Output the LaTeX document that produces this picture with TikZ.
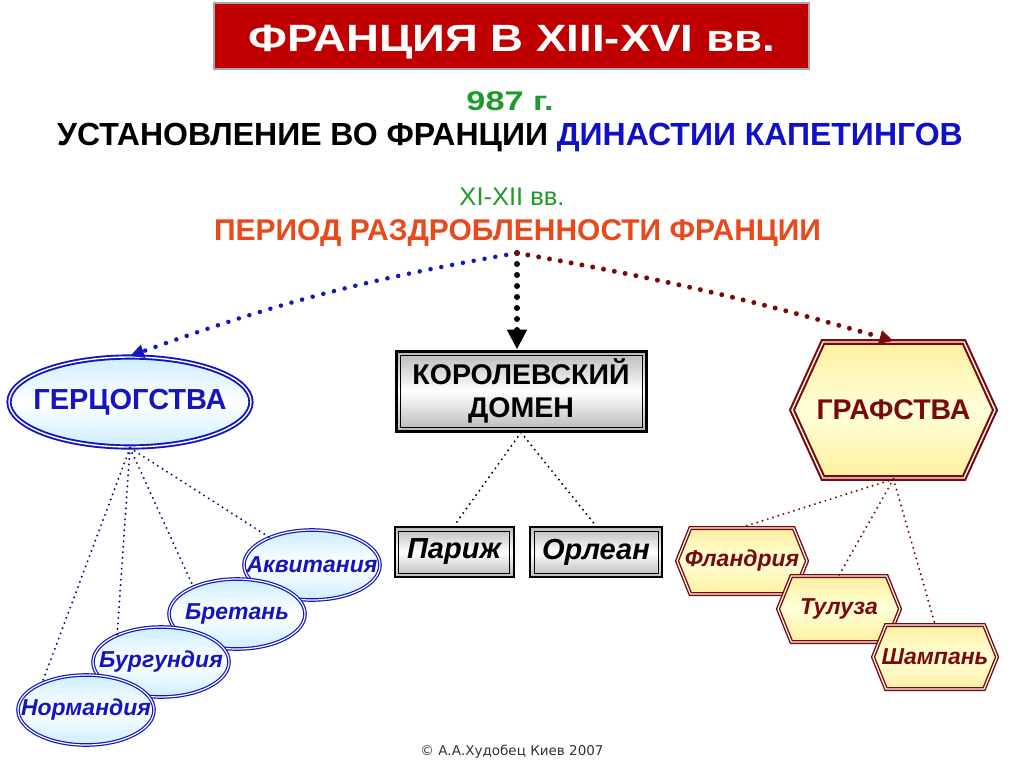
\documentclass[tikz,border=0pt]{standalone}
\usepackage{fontspec}
\setmainfont{Liberation Sans}
\newfontfamily\footfont{DejaVu Sans}
\newfontfamily\widesans[FakeStretch=1.2]{Liberation Sans}
\newfontfamily\midsans[FakeStretch=1.27]{Liberation Sans}
\usetikzlibrary{shapes.geometric,shapes.symbols,arrows.meta}
\definecolor{titlered}{HTML}{C00000}
\definecolor{grn}{HTML}{1E9A28}
\definecolor{dynblue}{HTML}{1010C8}
\definecolor{perorange}{HTML}{E84A1E}
\definecolor{dblue}{HTML}{1414C0}
\definecolor{dred}{HTML}{7A0A0A}
\definecolor{lblue}{HTML}{CDEEFF}
\definecolor{lyellow}{HTML}{FFF0A0}
\definecolor{lgray}{HTML}{B8B8B8}
\tikzset{
  fs/.style={font=\fontsize{#1}{#1}\selectfont},
  bfs/.style={font=\bfseries\fontsize{#1}{#1}\selectfont},
  duchy/.style={ellipse, draw=dblue, double=white, double distance=1.2pt, line width=1.2pt,
    top color=lblue, bottom color=lblue, middle color=white, inner sep=0pt,
    font=\bfseries\itshape\fontsize{23}{23}\selectfont, text=dblue,
    minimum width=136pt, minimum height=70pt},
  county/.style={signal, signal to=west and east, signal pointer angle=136,
    draw=dred, double=white, double distance=1.2pt, line width=1.4pt,
    top color=lyellow, bottom color=lyellow, middle color=white!85!yellow, inner sep=0pt,
    font=\bfseries\itshape\fontsize{23}{23}\selectfont, text=dred,
    minimum height=66pt},
  framed/.style={rectangle, draw=black, line width=#1,
    top color=lgray, bottom color=lgray, middle color=white, inner sep=0pt,
    path picture={\draw[black, line width=0.8pt]
      ([shift={(4pt,-4pt)}]path picture bounding box.north west) rectangle
      ([shift={(-4pt,4pt)}]path picture bounding box.south east);}},
  city/.style={framed=2pt, font=\bfseries\itshape\fontsize{29}{29}\selectfont, minimum height=50pt},
  bigdots/.style={line width=#1, line cap=round, dash pattern=on 0pt off 11pt},
  smalldots/.style={line width=2.2pt, line cap=round, dash pattern=on 0pt off 5.5pt},
  plain/.style={inner sep=0pt, anchor=base},
}
\begin{document}
\begin{tikzpicture}[x=1pt,y=-1pt]
\useasboundingbox (0,0) rectangle (1024,768);
\fill[white] (0,0) rectangle (1024,768);
% title
\node[fill=titlered, draw=gray!70, line width=2.5pt, minimum width=595pt, minimum height=66pt,
  inner sep=0pt] (titlebox) at (511.5,36) {};
\node[plain, text=white, font=\widesans\bfseries\fontsize{38}{38}\selectfont] (title) at (511.5,52)
  {ФРАНЦИЯ В XIII-XVI вв.};
\node[plain, text=grn, font=\midsans\bfseries\fontsize{27}{27}\selectfont] (year) at (510,110) {987 г.};
\node[plain, bfs=32] (dyn) at (510,145)
  {УСТАНОВЛЕНИЕ ВО ФРАНЦИИ \textcolor{dynblue}{ДИНАСТИИ КАПЕТИНГОВ}};
\node[plain, text=grn, fs=25.5] (cent) at (512,205) {XI-XII вв.};
\node[plain, text=perorange, bfs=30] (per) at (517.5,240) {ПЕРИОД РАЗДРОБЛЕННОСТИ ФРАНЦИИ};
\coordinate (src) at (517,253);
% main nodes
\node[ellipse, draw=dblue, double=white, double distance=1.4pt, line width=1.9pt,
  top color=lblue, bottom color=lblue, middle color=white, inner sep=0pt,
  minimum width=242pt, minimum height=90pt, text=dblue, bfs=29]
  (gerc) at (130,402) {\makebox[0pt]{ГЕРЦОГСТВА}};
\node[framed=3pt, minimum width=250pt, minimum height=80pt, align=center,
  font=\bfseries\fontsize{28.5}{33}\selectfont] (dom) at (521,391) {КОРОЛЕВСКИЙ\\ДОМЕН};
\node[signal, signal to=west and east, signal pointer angle=131,
  draw=dred, double=white, double distance=1.4pt, line width=2.1pt,
  top color=lyellow, bottom color=lyellow, middle color=white!85!yellow, inner sep=0pt,
  minimum width=203pt, minimum height=136pt, text=dred, bfs=28.5]
  (graf) at (893.5,410) {\makebox[0pt]{ГРАФСТВА}};
% arrows from period
\draw[dblue, bigdots=4.5pt, -{Triangle[width=13pt,length=14pt]}] (src) to[bend right=5] (gerc.north);
\draw[black, bigdots=6pt, -{Triangle[width=19pt,length=20pt]}] (src) -- (src |- dom.north);
\draw[dred, bigdots=5pt, -{Triangle[width=13pt,length=14pt]}] (src) to[bend left=3] (graf.north);
% duchies
\node[duchy] (akv) at (312,565) {\makebox[0pt]{Аквитания}};
\node[duchy] (bre) at (237,614) {\makebox[0pt]{Бретань}};
\node[duchy] (bur) at (161,662) {\makebox[0pt]{Бургундия}};
\node[duchy] (nor) at (86,710) {\makebox[0pt]{Нормандия}};
\draw[dblue!70!black, smalldots] (gerc.south) -- (akv.147);
\draw[dblue!70!black, smalldots] (gerc.south) -- (bre.148);
\draw[dblue!70!black, smalldots] (gerc.south) -- (bur.148);
\draw[dblue!70!black, smalldots] (gerc.south) -- (nor.148);
% domain cities
\node[city, minimum width=119pt] (par) at (454,552) {\makebox[0pt]{Париж}};
\node[city, minimum width=132pt] (orl) at (596,552) {\makebox[0pt]{Орлеан}};
\draw[black, smalldots] (dom.south) -- (par.north);
\draw[black, smalldots] (dom.south) -- (orl.north);
% counties
\node[county, minimum width=130pt] (fla) at (742,561) {\makebox[0pt]{Фландрия}};
\node[county, minimum width=122pt] (tul) at (839,609) {\makebox[0pt]{Тулуза}};
\node[county, minimum width=124pt, minimum height=64pt] (sha) at (935,657) {\makebox[0pt]{Шампань}};
\draw[dred, smalldots] (graf.south) -- (fla.north);
\draw[dred, smalldots] (graf.south) -- (tul.north);
\draw[dred, smalldots] (graf.south) -- (sha.north);
% footer
\node[font=\footfont\fontsize{13.5}{13.5}\selectfont, text=black!80] (foot) at (512,752) {© А.А.Худобец Киев 2007};
\end{tikzpicture}
\end{document}
